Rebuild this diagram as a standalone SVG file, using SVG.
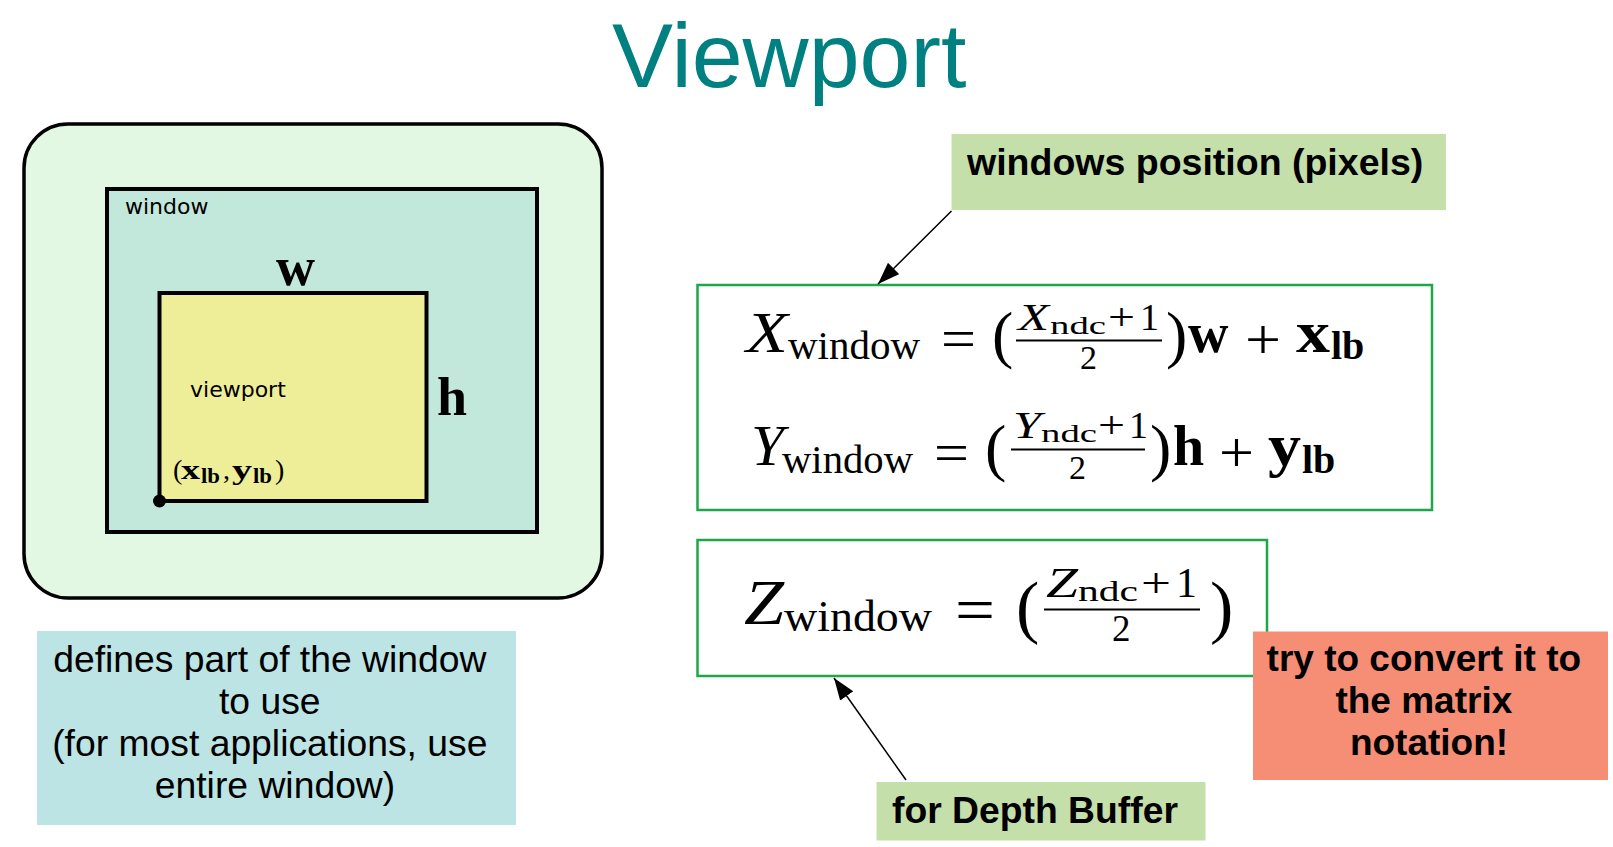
<svg xmlns="http://www.w3.org/2000/svg" width="1613" height="847" viewBox="0 0 1613 847">
<style>
.sans{font-family:"Liberation Sans",Arial,sans-serif;}
.bold{font-family:"Liberation Sans",Arial,sans-serif;font-weight:bold;}
.dv{font-family:"DejaVu Sans",sans-serif;}
.m{font-family:"Liberation Serif","Times New Roman",serif;fill:#000;}
.mi{font-family:"Liberation Serif","Times New Roman",serif;font-style:italic;}
.mb{font-family:"Liberation Serif","Times New Roman",serif;font-weight:bold;}
.eqbox{fill:#fff;stroke:#1ea64a;stroke-width:2.5;}
.lbl{fill:#c5dfab;}
.bar{stroke:#000;stroke-width:2;}
.conn{stroke:#000;stroke-width:1.5;fill:none;marker-end:url(#arr);}
</style>
<defs>
<marker id="arr" markerUnits="userSpaceOnUse" markerWidth="24" markerHeight="18" refX="22" refY="8" orient="auto">
<path d="M0,0 L22,8 L0,16 Z" fill="#000"/>
</marker>
</defs>
<rect width="1613" height="847" fill="#fff"/>
<text x="612" y="87" class="sans" font-size="91.5" fill="#008080">Viewport</text>

<g id="screen">
<rect x="24" y="124" width="578" height="474" rx="44" fill="#e2f8e3" stroke="#000" stroke-width="3.5"/>
</g>
<g id="window">
<rect x="107" y="189" width="430" height="343" fill="#c2e8db" stroke="#000" stroke-width="4"/>
<text x="125" y="214" class="dv" font-size="22">window</text>
</g>
<g id="viewport">
<rect x="159.5" y="293" width="267" height="208" fill="#eeee99" stroke="#000" stroke-width="4"/>
<text x="190" y="397" class="dv" font-size="22">viewport</text>
<text x="276" y="285" class="mb" font-size="54">w</text>
<text x="437" y="415" class="mb" font-size="54">h</text>
<text class="m" font-size="28">
<tspan x="173" y="479">(</tspan>
<tspan class="mb" x="181" y="479" textLength="19" lengthAdjust="spacingAndGlyphs">x</tspan>
<tspan class="mb" x="201" y="483" font-size="20" textLength="19" lengthAdjust="spacingAndGlyphs">lb</tspan>
<tspan x="223" y="479">,</tspan>
<tspan class="mb" x="232" y="479" textLength="20" lengthAdjust="spacingAndGlyphs">y</tspan>
<tspan class="mb" x="253" y="483" font-size="20" textLength="19" lengthAdjust="spacingAndGlyphs">lb</tspan>
<tspan x="275" y="479">)</tspan>
</text>
<circle cx="159.5" cy="501" r="6.5" fill="#000"/>
</g>

<g id="desc">
<rect x="37" y="631" width="479" height="194" fill="#bde4e4"/>
<text class="sans" font-size="37.3" text-anchor="middle">
<tspan x="275" y="672">defines part of the window</tspan>
<tspan x="275" y="714">to use</tspan>
<tspan x="275" y="756">(for most applications, use</tspan>
<tspan x="275" y="798">entire window)</tspan>
</text>
</g>

<g id="pixels">
<rect x="951.5" y="134" width="494.5" height="76" class="lbl"/>
<text x="967" y="175" class="bold" font-size="37.5">windows position (pixels)</text>
</g>

<g id="eq-xy">
<rect x="697.5" y="285" width="734.5" height="225" class="eqbox"/>
<text class="m" font-size="58">
<tspan class="mi" x="746" y="352" textLength="42" lengthAdjust="spacingAndGlyphs">X</tspan>
<tspan x="788" y="359" font-size="40" textLength="132" lengthAdjust="spacingAndGlyphs">window</tspan>
<tspan x="941" y="358" textLength="35" lengthAdjust="spacingAndGlyphs">=</tspan>
<tspan x="992" y="356" font-size="64">(</tspan>
<tspan class="mi" x="1018" y="330" font-size="38" textLength="31" lengthAdjust="spacingAndGlyphs">X</tspan>
<tspan x="1050" y="334" font-size="26" textLength="56" lengthAdjust="spacingAndGlyphs">ndc</tspan>
<tspan x="1108" y="330" font-size="38" textLength="27" lengthAdjust="spacingAndGlyphs">+</tspan>
<tspan x="1140" y="330" font-size="38">1</tspan>
<tspan x="1080" y="369" font-size="34">2</tspan>
<tspan x="1166" y="356" font-size="64">)</tspan>
<tspan class="mb" x="1188" y="352" font-size="56">w</tspan>
<tspan x="1245" y="359" textLength="36" lengthAdjust="spacingAndGlyphs">+</tspan>
<tspan class="mb" x="1296" y="352" font-size="60" textLength="34" lengthAdjust="spacingAndGlyphs">x</tspan>
<tspan class="mb" x="1331" y="359" font-size="40">lb</tspan>
</text>
<line x1="1016" y1="340.5" x2="1162" y2="340.5" class="bar"/>
<text class="m" font-size="58">
<tspan class="mi" x="751" y="465" textLength="33" lengthAdjust="spacingAndGlyphs">Y</tspan>
<tspan x="782" y="473" font-size="40" textLength="131" lengthAdjust="spacingAndGlyphs">window</tspan>
<tspan x="934" y="472" textLength="35" lengthAdjust="spacingAndGlyphs">=</tspan>
<tspan x="985" y="469" font-size="64">(</tspan>
<tspan class="mi" x="1013" y="438" font-size="38" textLength="28" lengthAdjust="spacingAndGlyphs">Y</tspan>
<tspan x="1041" y="442" font-size="26" textLength="56" lengthAdjust="spacingAndGlyphs">ndc</tspan>
<tspan x="1098" y="438" font-size="38" textLength="27" lengthAdjust="spacingAndGlyphs">+</tspan>
<tspan x="1129" y="438" font-size="38">1</tspan>
<tspan x="1069" y="479" font-size="34">2</tspan>
<tspan x="1150" y="469" font-size="64">)</tspan>
<tspan class="mb" x="1173" y="465" font-size="56">h</tspan>
<tspan x="1219" y="472" textLength="35" lengthAdjust="spacingAndGlyphs">+</tspan>
<tspan class="mb" x="1268" y="465" font-size="60" textLength="33" lengthAdjust="spacingAndGlyphs">y</tspan>
<tspan class="mb" x="1302" y="473" font-size="40">lb</tspan>
</text>
<line x1="1011" y1="449.5" x2="1145" y2="449.5" class="bar"/>
</g>

<g id="eq-z">
<rect x="697.5" y="540" width="569.5" height="136" class="eqbox"/>
<text class="m" font-size="64">
<tspan class="mi" x="744" y="624" textLength="40" lengthAdjust="spacingAndGlyphs">Z</tspan>
<tspan x="784" y="631" font-size="44" textLength="148" lengthAdjust="spacingAndGlyphs">window</tspan>
<tspan x="955" y="631" textLength="40" lengthAdjust="spacingAndGlyphs">=</tspan>
<tspan x="1016" y="630" font-size="70">(</tspan>
<tspan class="mi" x="1046" y="597" font-size="42" textLength="32" lengthAdjust="spacingAndGlyphs">Z</tspan>
<tspan x="1078" y="601" font-size="29" textLength="60" lengthAdjust="spacingAndGlyphs">ndc</tspan>
<tspan x="1141" y="597" font-size="42" textLength="30" lengthAdjust="spacingAndGlyphs">+</tspan>
<tspan x="1176" y="597" font-size="42">1</tspan>
<tspan x="1112" y="641" font-size="37">2</tspan>
<tspan x="1210" y="630" font-size="70">)</tspan>
</text>
<line x1="1044" y1="609.5" x2="1200" y2="609.5" class="bar"/>
</g>

<g id="depth">
<rect x="876.5" y="782" width="329" height="58.5" class="lbl"/>
<text x="892" y="823" class="bold" font-size="37.3">for Depth Buffer</text>
</g>

<g id="matrix">
<rect x="1253" y="631.5" width="355" height="148.5" fill="#f68e76"/>
<text class="bold" font-size="37" text-anchor="middle">
<tspan x="1429" y="671">try to convert it to</tspan>
<tspan x="1429" y="713">the matrix</tspan>
<tspan x="1429" y="755">notation!</tspan>
</text>
</g>

<g id="connectors">
<line x1="951.5" y1="211" x2="878" y2="284" class="conn"/>
<line x1="906" y1="780" x2="834" y2="678" class="conn"/>
</g>
</svg>
